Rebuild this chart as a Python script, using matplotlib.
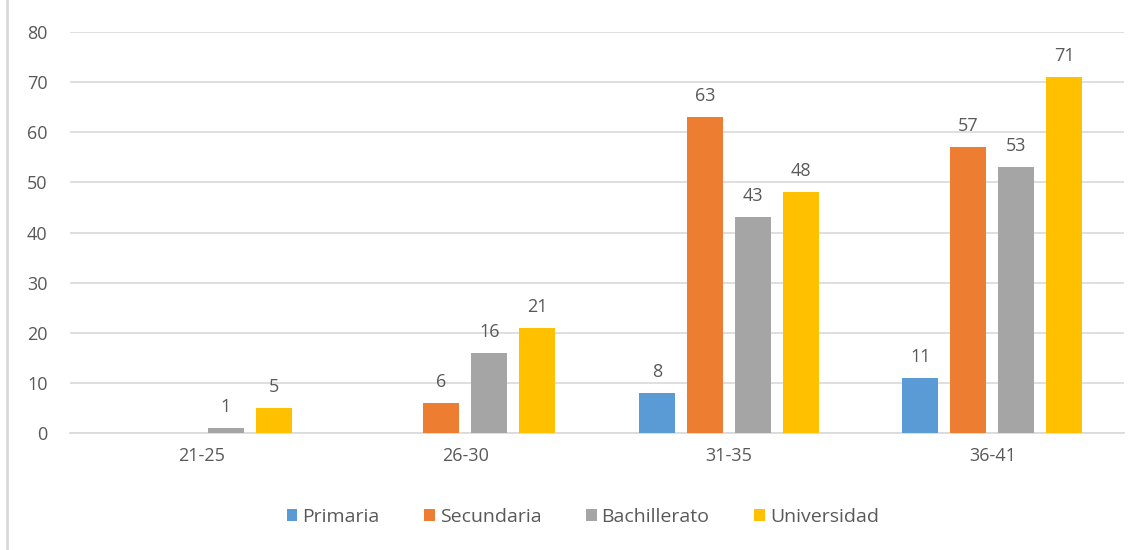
import numpy as np
import matplotlib.pyplot as plt
from matplotlib.lines import Line2D

# datos
categorias = ['21-25', '26-30', '31-35', '36-41']
series = ['Primaria', 'Secundaria', 'Bachillerato', 'Universidad']
primaria = [0, 0, 8, 11]
secundaria = [0, 6, 63, 57]
bachillerato = [1, 16, 43, 53]
universidad = [5, 21, 48, 71]
colores = ['#5B9BD5', '#ED7D31', '#A5A5A5', '#FFC000']

plt.rcParams['font.family'] = ['Open Sans', 'DejaVu Sans']
txt = '#595959'
fs = 13

fig = plt.figure(figsize=(11.47, 5.5), dpi=100)
ax = fig.add_axes([0.061, 0.2127, 0.919, 0.7291])

x = np.arange(len(categorias))
ancho = 0.137
paso = 0.182
valores = [primaria, secundaria, bachillerato, universidad]
for i, (nombre, vals, c) in enumerate(zip(series, valores, colores)):
    pos = x + (i - 1.5) * paso
    ax.bar(pos, vals, ancho, color=c, label=nombre, zorder=3)
    for p, v in zip(pos, vals):
        if v > 0:
            ax.text(p, v + 2.4, str(v), ha='center', va='bottom',
                    fontsize=fs, color=txt)

ax.set_xlim(-0.5, 3.5)
ax.set_ylim(0, 80)
ax.set_yticks(range(0, 81, 10))
ax.set_xticks(x)
ax.set_xticklabels(categorias)
ax.grid(axis='y', color='#D9D9D9', linewidth=1.2, zorder=0)
for s in ['top', 'right', 'left']:
    ax.spines[s].set_visible(False)
ax.spines['bottom'].set_color('#D9D9D9')
ax.spines['bottom'].set_linewidth(1.2)
ax.tick_params(axis='both', length=0, labelsize=fs, colors=txt, pad=16)
ax.tick_params(axis='x', pad=10)

fig.legend(loc='lower center', bbox_to_anchor=(0.508, 0.012), ncol=4,
           frameon=False, fontsize=fs + 1, labelcolor=txt, handlelength=0.55,
           handleheight=0.55, handletextpad=0.25, columnspacing=2.3)

# borde izquierdo del recuadro
fig.add_artist(Line2D([0.0065, 0.0065], [0.0, 1.0], color='#D9D9D9',
                      linewidth=2, transform=fig.transFigure))

fig.savefig('out.png', dpi=100)
